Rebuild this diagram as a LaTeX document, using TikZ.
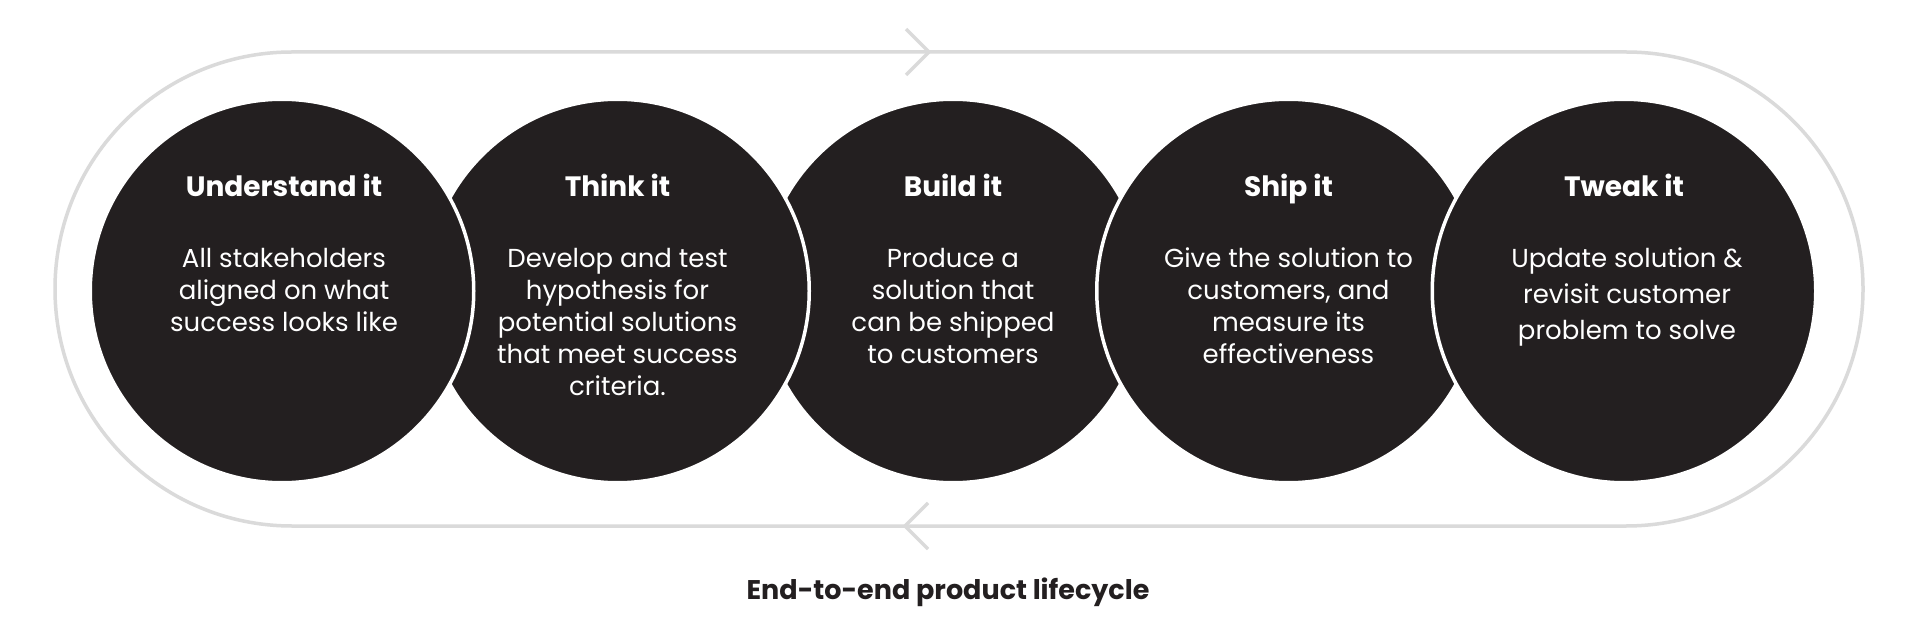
\documentclass[tikz,border=0pt]{standalone}
\usepackage{fontspec}
\setmainfont{Poppins}
\usetikzlibrary{positioning}

\definecolor{disc}{RGB}{35,31,32}
\definecolor{trackgray}{RGB}{218,218,218}

\tikzset{
  stage/.style={circle, fill=disc, draw=white, line width=3.5pt, minimum size=383.5pt, inner sep=0pt},
  stagetitle/.style={text=white, font=\fontsize{28}{32}\selectfont\bfseries, anchor=base, inner sep=0pt},
  stagetext/.style={text=white, font=\fontsize{26}{32}\selectfont, align=center, anchor=north, inner sep=0pt},
  track/.style={draw=trackgray, line width=3.5pt},
}

\begin{document}
\begin{tikzpicture}[x=1pt,y=-1pt]
  \useasboundingbox[fill=white] (0,0) rectangle (1920,628);

  % the loop round all stages
  \draw[track, rounded corners=237pt] (55,52) rectangle (1863,526);
  \coordinate (topA) at (906,29);
  \coordinate (topB) at (929,52);
  \coordinate (topC) at (906,75);
  \coordinate (botA) at (928,503);
  \coordinate (botB) at (905,526);
  \coordinate (botC) at (928,549);
  \draw[track] (topA) -- (topB) -- (topC);
  \draw[track] (botA) -- (botB) -- (botC);

  % stages, back to front
  \node[stage] (build) at (953,291) {};
  \node[stage] (think) at (617.5,291) {};
  \node[stage] (ship)  at (1288.5,291) {};
  \node[stage] (under) at (282,291) {};
  \node[stage] (tweak) at (1624,291) {};

  \node[stagetitle] (underT) at (284,197) {Understand it};
  \node[stagetitle] (thinkT) at (617.5,197) {Think it};
  \node[stagetitle] (buildT) at (953,197) {Build it};
  \node[stagetitle] (shipT)  at (1288.5,197) {Ship it};
  \node[stagetitle] (tweakT) at (1624,197) {Tweak it};

  \node[stagetext] (underB) at (284,248) {All stakeholders\\aligned on what\\success looks like};
  \node[stagetext] (thinkB) at (617.5,248) {Develop and test\\hypothesis for\\potential solutions\\that meet success\\criteria.};
  \node[stagetext] (buildB) at (953,248) {Produce a\\solution that\\can be shipped\\to customers};
  \node[stagetext] (shipB)  at (1288.5,248) {Give the solution to\\customers, and\\measure its\\effectiveness};
  \node[stagetext, font=\fontsize{26}{36}\selectfont] (tweakB) at (1627,248) {Update solution \&\\revisit customer\\problem to solve};

  \node[font=\fontsize{27}{32}\selectfont\bfseries, text=disc, anchor=base, inner sep=0pt] (caption) at (948,599) {End-to-end product lifecycle};
\end{tikzpicture}
\end{document}
